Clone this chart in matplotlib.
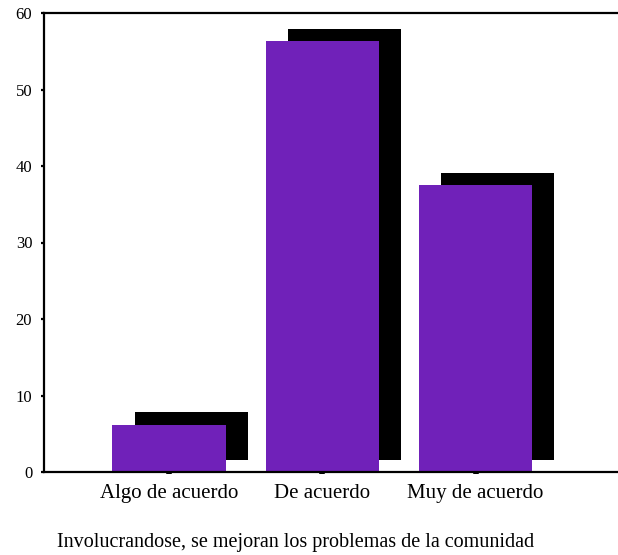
import numpy as np
import matplotlib
matplotlib.use("Agg")
import matplotlib.pyplot as plt

categories = ["Algo de acuerdo", "De acuerdo", "Muy de acuerdo"]
values = [6.2, 56.3, 37.5]
yticks = [0, 10, 20, 30, 40, 50, 60]
caption = "Involucrandose, se mejoran los problemas de la comunidad"

plt.rcParams["font.family"] = ["Liberation Serif", "DejaVu Serif"]

fig = plt.figure(figsize=(6.18, 5.55), dpi=100)
ax = fig.add_axes([44 / 618, 83 / 555, 574 / 618, 459 / 555])

x = np.arange(len(categories))
width = 0.74
# shadow offset (data units): right and up
dx, dy = 0.144, 1.63
ax.bar(x + dx, values, width, bottom=dy, color="black", zorder=1)
ax.bar(x, values, width, color="#7021b9", zorder=2)

ax.set_xlim(-0.817, 2.93)
ax.set_ylim(0, 60)
ax.set_yticks(yticks)
ax.set_yticklabels([str(v) for v in yticks], fontsize=12)
ax.set_xticks(x)
ax.set_xticklabels(categories, fontsize=15)

ax.tick_params(axis="y", length=2.5, width=1.6, pad=6, direction="out")
ax.tick_params(axis="x", length=1.5, width=4, pad=7, direction="out")

for side in ["left", "top", "bottom"]:
    ax.spines[side].set_linewidth(1.6)
ax.spines["right"].set_visible(False)

fig.text(296 / 618, 12 / 555, caption, ha="center", va="center", fontsize=14.5)

fig.savefig("out.png", dpi=100)
